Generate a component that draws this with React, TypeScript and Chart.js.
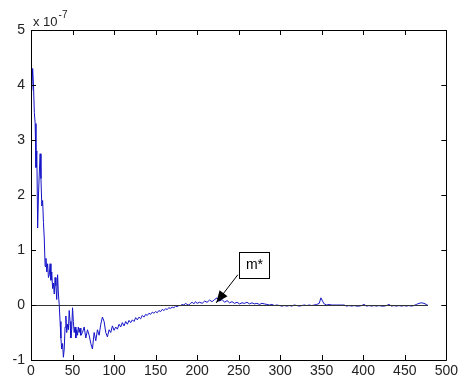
import React, { useEffect, useRef } from "react";
import { Chart, registerables } from "chart.js";

Chart.register(...registerables);

// Sample index (x) and residual value (in units of 1e-7)
const earlyX = [
  1, 2, 3, 4, 5, 6, 7, 8, 9, 10, 11, 12, 13, 14, 15, 16, 17, 18, 19, 20,
  21, 22, 23, 24, 25, 26, 27, 28, 29, 30, 31, 32, 33, 34, 35, 36, 37, 38, 39, 40,
  41, 42, 43, 44, 45, 46, 47, 48, 49, 50, 51, 52, 53, 54, 55, 56, 57, 58, 59, 60,
];
const earlyY = [
  3.9, 4.3, 4.0, 3.5, 3.3, 2.5, 2.8, 1.4, 2.0, 2.4, 2.75, 2.3, 1.8, 1.9, 1.5, 1.2, 0.7, 0.85, 0.6, 0.75,
  0.5, 0.55, 0.75, 0.45, 0.6, 0.3, 0.4, 0.2, 0.5, 0.35, 0.1, 0.55, 0.2, 0.0, -0.3, -0.6, -0.8, -0.7, -0.95, -0.8,
  -0.4, -0.2, -0.5, -0.35, -0.45, -0.1, -0.3, -0.6, -0.45, -0.05, -0.3, -0.5, -0.4, -0.6, -0.45, -0.55, -0.4, -0.5, -0.42, -0.55,
];

const midX = [
  62, 64, 66, 68, 70, 72, 74, 76, 78, 80, 82, 84, 86, 88, 90, 92, 94, 96, 98, 100,
  102, 104, 106, 108, 110, 112, 114, 116, 118, 120, 122, 124, 126, 128, 130, 132, 134, 136, 138, 140,
  142, 144, 146, 148, 150, 152, 154, 156, 158, 160, 162, 164, 166, 168, 170, 172, 174, 176, 178, 180,
  182, 184, 186, 188, 190, 192, 194, 196, 198, 200,
];
const midY = [
  -0.5, -0.4, -0.6, -0.45, -0.55, -0.7, -0.8, -0.5, -0.65, -0.45, -0.55, -0.35, -0.22, -0.3, -0.5, -0.58, -0.45, -0.5, -0.38, -0.46,
  -0.4, -0.44, -0.35, -0.4, -0.32, -0.38, -0.3, -0.35, -0.28, -0.32, -0.27, -0.3, -0.23, -0.27, -0.22, -0.25, -0.19, -0.22, -0.17, -0.19,
  -0.15, -0.17, -0.13, -0.15, -0.12, -0.14, -0.1, -0.12, -0.08, -0.1, -0.07, -0.08, -0.05, -0.06, -0.04, -0.05, -0.02, -0.03, -0.01, -0.01,
  0.01, 0.0, 0.03, 0.01, 0.0, 0.03, 0.05, 0.02, 0.06, 0.03,
];

const lateX = [
  203, 206, 209, 212, 215, 218, 221, 224, 227, 230, 233, 236, 239, 242, 245, 248, 251, 254, 257, 260,
  263, 266, 269, 272, 275, 278, 281, 284, 287, 290, 293, 296, 299, 302, 305, 308, 311, 314, 317, 320,
  323, 326, 329, 332, 335, 338, 341, 344, 347, 349, 351, 353, 356, 359, 362, 365, 368, 371, 374, 377,
  380, 383, 386, 389, 392, 395, 398, 401, 404, 407, 410, 413, 416, 419, 422, 425, 428, 431, 434, 437,
  440, 443, 446, 449, 452, 455, 458, 461, 464, 467, 470, 473, 476, 478,
];
const lateY = [
  0.05, 0.03, 0.07, 0.05, 0.09, 0.06, 0.1, 0.13, 0.07, 0.1, 0.05, 0.08, 0.04, 0.06, 0.03, 0.05, 0.02, 0.04, 0.03, 0.05,
  0.02, 0.04, 0.02, 0.03, 0.01, 0.03, 0.02, 0.01, 0.0, 0.01, -0.01, 0.0, -0.01, -0.02, -0.01, -0.02, -0.01, -0.02, 0.0, -0.01,
  -0.02, -0.01, 0.0, -0.01, 0.0, -0.01, 0.0, 0.01, 0.03, 0.13, 0.07, 0.02, 0.0, 0.01, 0.0, 0.0, 0.0, 0.0, 0.0, 0.0,
  -0.02, -0.01, -0.02, -0.01, -0.02, -0.02, -0.01, 0.01, -0.02, -0.01, -0.02, -0.01, -0.02, -0.01, -0.02, -0.02, -0.01, 0.01, -0.02, -0.01,
  -0.02, -0.01, -0.02, -0.01, -0.02, -0.01, -0.02, -0.01, 0.01, 0.03, 0.04, 0.03, 0.01, -0.01,
];

const xTicks = [0, 50, 100, 150, 200, 250, 300, 350, 400, 450, 500];
const yTicks = [-1, 0, 1, 2, 3, 4, 5];
const zeroLineX = [0, 478];

// Callout label and arrow, in data coordinates
const calloutText = "m*";
const calloutBox = { x0: 250, x1: 286, y0: 0.96, y1: 0.5 };
const calloutArrow = { fromX: 249, fromY: 0.55, toX: 223, toY: 0.04 };

const FONT = "Arial, 'Liberation Sans', Helvetica, sans-serif";

const zip = (xs: number[], ys: number[]) => xs.map((x, i) => ({ x, y: ys[i] }));

const framePlugin = {
  id: "matlabFrame",
  afterDatasetsDraw(chart: any) {
    const { ctx, chartArea, scales } = chart;
    const { left, right, top, bottom } = chartArea;
    const xs = scales.x;
    const ys = scales.y;
    ctx.save();

    // zero reference line
    ctx.strokeStyle = "#333";
    ctx.lineWidth = 1;
    ctx.beginPath();
    ctx.moveTo(xs.getPixelForValue(zeroLineX[0]), Math.round(ys.getPixelForValue(0)) + 0.5);
    ctx.lineTo(xs.getPixelForValue(zeroLineX[1]), Math.round(ys.getPixelForValue(0)) + 0.5);
    ctx.stroke();

    // box
    ctx.strokeStyle = "#000";
    ctx.beginPath();
    ctx.rect(Math.round(left) + 0.5, Math.round(top) + 0.5, Math.round(right - left), Math.round(bottom - top));
    ctx.stroke();

    // inward ticks on all four sides
    const tl = 5;
    ctx.beginPath();
    xTicks.forEach((v) => {
      const px = Math.round(xs.getPixelForValue(v)) + 0.5;
      ctx.moveTo(px, bottom);
      ctx.lineTo(px, bottom - tl);
      ctx.moveTo(px, top);
      ctx.lineTo(px, top + tl);
    });
    yTicks.forEach((v) => {
      const py = Math.round(ys.getPixelForValue(v)) + 0.5;
      ctx.moveTo(left, py);
      ctx.lineTo(left + tl, py);
      ctx.moveTo(right, py);
      ctx.lineTo(right - tl, py);
    });
    ctx.stroke();

    // exponent label
    ctx.fillStyle = "#222";
    ctx.textBaseline = "alphabetic";
    ctx.textAlign = "left";
    ctx.font = `13px ${FONT}`;
    ctx.fillText("x 10", left + 2, top - 4);
    const w = ctx.measureText("x 10").width;
    ctx.font = `10px ${FONT}`;
    ctx.fillText("-7", left + 3 + w, top - 12);

    // callout box
    const bx0 = Math.round(xs.getPixelForValue(calloutBox.x0)) + 0.5;
    const bx1 = Math.round(xs.getPixelForValue(calloutBox.x1)) + 0.5;
    const by0 = Math.round(ys.getPixelForValue(calloutBox.y0)) + 0.5;
    const by1 = Math.round(ys.getPixelForValue(calloutBox.y1)) + 0.5;
    ctx.fillStyle = "#fff";
    ctx.fillRect(bx0, by0, bx1 - bx0, by1 - by0);
    ctx.strokeStyle = "#000";
    ctx.strokeRect(bx0, by0, bx1 - bx0, by1 - by0);
    ctx.fillStyle = "#000";
    ctx.font = `14px ${FONT}`;
    ctx.textAlign = "center";
    ctx.textBaseline = "middle";
    ctx.fillText(calloutText, (bx0 + bx1) / 2, (by0 + by1) / 2);

    // arrow
    const ax0 = xs.getPixelForValue(calloutArrow.fromX);
    const ay0 = ys.getPixelForValue(calloutArrow.fromY);
    const ax1 = xs.getPixelForValue(calloutArrow.toX);
    const ay1 = ys.getPixelForValue(calloutArrow.toY);
    ctx.beginPath();
    ctx.moveTo(ax0, ay0);
    ctx.lineTo(ax1, ay1);
    ctx.stroke();
    const ang = Math.atan2(ay1 - ay0, ax1 - ax0);
    const hl = 12;
    const hw = 5;
    const bxp = ax1 - hl * Math.cos(ang);
    const byp = ay1 - hl * Math.sin(ang);
    ctx.beginPath();
    ctx.moveTo(ax1, ay1);
    ctx.lineTo(bxp + hw * Math.sin(ang), byp - hw * Math.cos(ang));
    ctx.lineTo(bxp - hw * Math.sin(ang), byp + hw * Math.cos(ang));
    ctx.closePath();
    ctx.fill();

    ctx.restore();
  },
};

export default function App() {
  const ref = useRef<HTMLCanvasElement | null>(null);

  useEffect(() => {
    if (!ref.current) return;
    const points = [...zip(earlyX, earlyY), ...zip(midX, midY), ...zip(lateX, lateY)];
    const chart = new Chart(ref.current, {
      type: "line",
      data: {
        datasets: [
          {
            data: points,
            borderColor: "#1414c8",
            borderWidth: 1,
            pointRadius: 0,
            tension: 0,
            fill: false,
          },
        ],
      },
      options: {
        animation: false,
        responsive: false,
        events: [],
        layout: { padding: { top: 30, right: 14, left: 0, bottom: 0 } },
        plugins: { legend: { display: false }, tooltip: { enabled: false } },
        scales: {
          x: {
            type: "linear",
            min: 0,
            max: 500,
            afterFit: (s: any) => {
              s.height = 19;
            },
            afterBuildTicks: (s: any) => {
              s.ticks = xTicks.map((v) => ({ value: v }));
            },
            grid: { display: false, drawTicks: false },
            border: { display: false },
            ticks: {
              padding: 3,
              maxRotation: 0,
              autoSkip: false,
              color: "#222",
              font: { family: FONT, size: 14 },
            },
          },
          y: {
            type: "linear",
            min: -1,
            max: 5,
            afterFit: (s: any) => {
              s.width = 31;
            },
            afterBuildTicks: (s: any) => {
              s.ticks = yTicks.map((v) => ({ value: v }));
            },
            grid: { display: false, drawTicks: false },
            border: { display: false },
            ticks: {
              padding: 6,
              autoSkip: false,
              color: "#222",
              font: { family: FONT, size: 14 },
            },
          },
        },
      },
      plugins: [framePlugin],
    });
    return () => chart.destroy();
  }, []);

  return (
    <div style={{ position: "absolute", left: 0, top: 0, width: 461, height: 379, background: "#fff" }}>
      <canvas ref={ref} width={461} height={379} />
    </div>
  );
}
